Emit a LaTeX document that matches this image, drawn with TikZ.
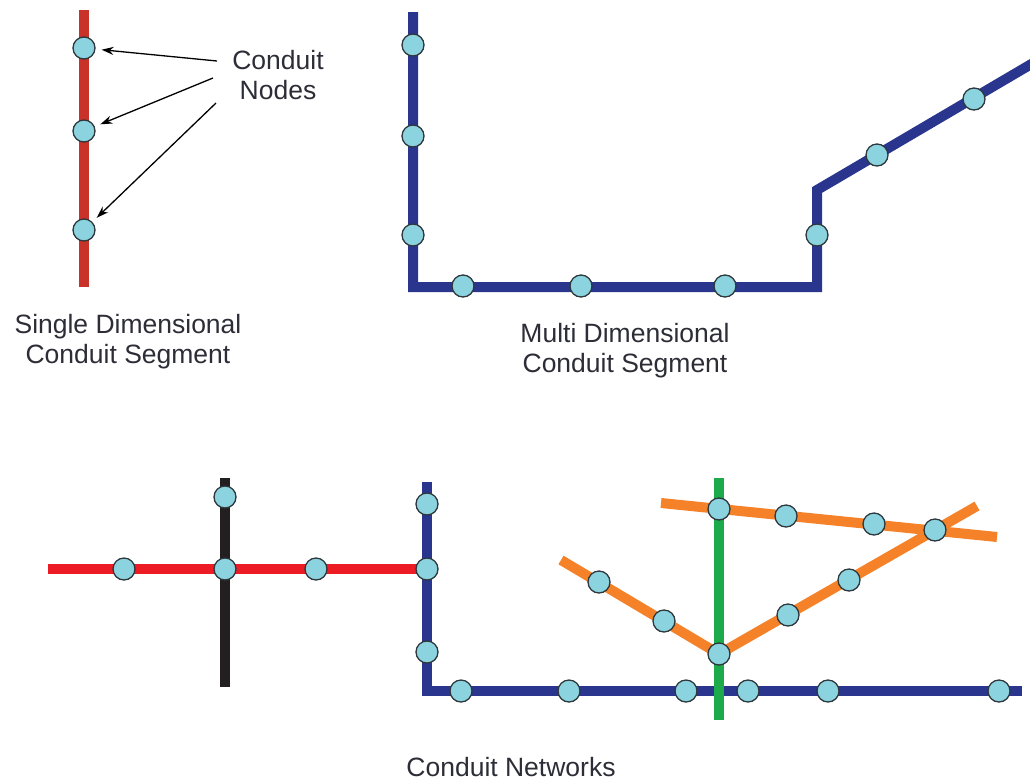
\documentclass[tikz,border=0pt]{standalone}
\usepackage{fontspec}
\setmainfont{Liberation Sans}
\usepackage{tikz}
\usetikzlibrary{arrows.meta,positioning,calc}
\definecolor{nodefill}{RGB}{140,211,224}
\definecolor{nodeline}{RGB}{45,55,60}
\definecolor{segred}{RGB}{200,50,40}
\definecolor{netred}{RGB}{237,28,36}
\definecolor{netblack}{RGB}{35,31,32}
\definecolor{pipeblue}{RGB}{42,54,142}
\definecolor{pipegreen}{RGB}{28,170,75}
\definecolor{pipeorange}{RGB}{245,130,40}
\definecolor{textgray}{RGB}{45,45,55}

\begin{document}
\begin{tikzpicture}[
  x=1pt, y=-1pt,
  pipe/.style={line width=10pt, line cap=butt, line join=miter},
  conn/.style={circle, draw=nodeline, fill=nodefill, line width=1.3pt, minimum size=22pt, inner sep=0pt},
  caption/.style={align=center, text=textgray, font=\fontsize{26.5}{30}\selectfont},
  arrow/.style={-{Stealth[length=12pt,width=8pt]}, line width=1.3pt, shorten >=6pt},
]
  \clip (0,0) rectangle (1030,780);

  % single dimensional segment
  \draw[pipe, segred] (84,10) -- (84,287);
  \node[conn] (s1) at (84,48) {};
  \node[conn] (s2) at (84,131) {};
  \node[conn] (s3) at (84,230) {};
  \node[caption] (lblnodes) at (278,75) {Conduit\\Nodes};
  \coordinate (a1) at (217,61);
  \coordinate (a2) at (213,78);
  \coordinate (a3) at (216,103);
  \draw[arrow] (a1) -- (s1);
  \draw[arrow] (a2) -- (s2);
  \draw[arrow] (a3) -- (s3);
  \node[caption] (lblsingle) at (128,342) {Single Dimensional\\Conduit Segment};

  % multi dimensional segment
  \draw[pipe, pipeblue] (413,12) |- (817,287) -- (817,190) -- (1045,56);
  \foreach \name/\pos in {m1/{(413,45)}, m2/{(413,136)}, m3/{(413,235)}, m4/{(463,286)},
      m5/{(581,286)}, m6/{(725,286)}, m7/{(817,235)}, m8/{(877,155)}, m9/{(974,99)}}
    \node[conn] (\name) at \pos {};
  \node[caption] (lblmulti) at (625,351) {Multi Dimensional\\Conduit Segment};

  % conduit networks
  \draw[pipe, netred] (48,569) -- (427,569);
  \draw[pipe, netblack] (225,478) -- (225,687);
  \draw[pipe, pipeblue] (427,482) |- (1022,691);
  \draw[pipe, pipeorange] (661,503) -- (997,537);
  \draw[pipe, pipeorange] (561,560) -- (719,654) -- (977,506);
  \draw[pipe, pipegreen] (719,478) -- (719,720);
  \foreach \name/\pos in {k1/{(225,497)}, k2/{(124,569)}, k3/{(225,569)}, k4/{(316,569)},
      b1/{(427,504)}, b2/{(427,569)}, b3/{(427,652)}, b4/{(461,691)}, b5/{(569,691)},
      b6/{(686,691)}, b7/{(748,691)}, b8/{(828,691)}, b9/{(999,691)},
      o1/{(719,509)}, o2/{(786,516)}, o3/{(874,524)}, o4/{(935,530)},
      o5/{(599,582)}, o6/{(664,621)}, o7/{(719,654)}, o8/{(788,615)}, o9/{(849,580)}}
    \node[conn] (\name) at \pos {};
  \node[caption] (lblnet) at (511,767) {Conduit Networks};
\end{tikzpicture}
\end{document}
